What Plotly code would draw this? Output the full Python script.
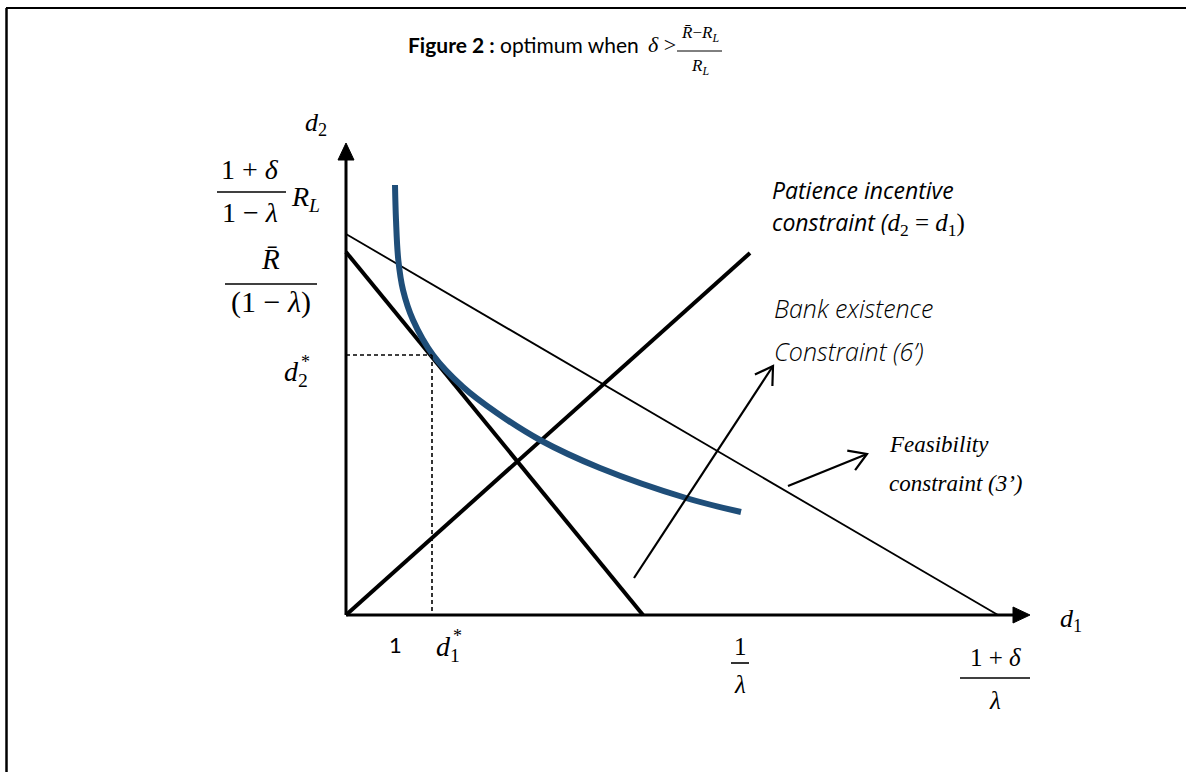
import math
import plotly.graph_objects as go

# ---- diagram data (abstract units: origin at 0,0) ----
d1_axis_end = 6.84
d2_axis_end = 4.72

feas_d1 = [0.0, 6.52]
feas_d2 = [3.81, 0.0]

bank_d1 = [0.0, 2.97]
bank_d2 = [3.63, 0.0]

patience_d1 = [0.0, 4.04]
patience_d2 = [0.0, 3.62]

indiff_d1 = [0.49, 0.50, 0.523, 0.57, 0.67, 0.87, 1.17, 1.51, 1.94, 2.54, 3.40, 3.95]
indiff_d2 = [4.30, 3.95, 3.55, 3.25, 2.95, 2.60, 2.28, 2.02, 1.75, 1.47, 1.17, 1.03]

optimum_d1 = 0.86
optimum_d2 = 2.60

bank_arrow_d1 = [2.88, 4.27]
bank_arrow_d2 = [0.37, 2.49]
feas_arrow_d1 = [4.42, 5.21]
feas_arrow_d2 = [1.29, 1.61]

W, H = 1186, 772
X0, Y0, SCALE = 346, 615, 100.0  # origin position and pixels per unit


def dx(px):
    return (px - X0) / SCALE


def dy(py):
    return (Y0 - py) / SCALE


fig = go.Figure()


def line(xs, ys, width, color="black", dash="solid"):
    fig.add_trace(go.Scatter(x=xs, y=ys, mode="lines",
                             line=dict(color=color, width=width, dash=dash),
                             hoverinfo="skip", showlegend=False))


# axes
line([0, 0], [0, d2_axis_end - 0.12], 3)
line([0, d1_axis_end - 0.12], [0, 0], 3)

# constraints
line(feas_d1, feas_d2, 1.8)
line(bank_d1, bank_d2, 4)
line(patience_d1, patience_d2, 4)

# indifference curve
fig.add_trace(go.Scatter(x=indiff_d1, y=indiff_d2, mode="lines",
                         line=dict(color="#1F4E79", width=6, shape="spline", smoothing=1.0),
                         hoverinfo="skip", showlegend=False))

# optimum guides
line([0, optimum_d1], [optimum_d2, optimum_d2], 1.6, dash="4px,3px")
line([optimum_d1, optimum_d1], [optimum_d2, 0], 1.6, dash="4px,3px")

# pointer arrows
line(bank_arrow_d1, bank_arrow_d2, 2.2)
line(feas_arrow_d1, feas_arrow_d2, 2.2)

shapes = []


def open_head(xs, ys, length=0.2, spread=0.55):
    ang = math.atan2(ys[1] - ys[0], xs[1] - xs[0])
    tx, ty = xs[1], ys[1]
    a1 = ang + math.pi - spread
    a2 = ang + math.pi + spread
    p1 = (tx + length * math.cos(a1), ty + length * math.sin(a1))
    p2 = (tx + length * math.cos(a2), ty + length * math.sin(a2))
    shapes.append(dict(type="path", xref="x", yref="y",
                       path=f"M{p1[0]},{p1[1]} L{tx},{ty} L{p2[0]},{p2[1]}",
                       line=dict(color="black", width=2.2)))


open_head(bank_arrow_d1, bank_arrow_d2)
open_head(feas_arrow_d1, feas_arrow_d2)

# filled axis arrowheads
hl, hw = 0.17, 0.08
shapes.append(dict(type="path", xref="x", yref="y", fillcolor="black",
                   line=dict(color="black", width=1),
                   path=f"M{-hw},{d2_axis_end - hl} L0,{d2_axis_end} L{hw},{d2_axis_end - hl} Z"))
shapes.append(dict(type="path", xref="x", yref="y", fillcolor="black",
                   line=dict(color="black", width=1),
                   path=f"M{d1_axis_end - hl},{-hw} L{d1_axis_end},0 L{d1_axis_end - hl},{hw} Z"))

# fraction bars
for x_a, x_b, yy, w in [(217, 286, 192, 1.6), (225, 317, 284, 1.6), (731, 749, 663, 1.6),
                        (960, 1030, 678, 1.6), (677, 722, 51, 1.0)]:
    shapes.append(dict(type="line", xref="x", yref="y", x0=dx(x_a), x1=dx(x_b),
                       y0=dy(yy), y1=dy(yy), line=dict(color="black", width=w)))

# frame
shapes.append(dict(type="line", xref="paper", yref="paper", x0=6 / W, x1=1,
                   y0=1 - 8 / H, y1=1 - 8 / H, line=dict(color="black", width=2)))
shapes.append(dict(type="line", xref="paper", yref="paper", x0=6.5 / W, x1=6.5 / W,
                   y0=0, y1=1 - 8 / H, line=dict(color="black", width=2.5)))

MATH = "Liberation Serif"
TEXT = "Lato"
SANS = "Open Sans"
annotations = []


def label(px, py, text, size, family=MATH, anchor="center", weight=None, italic=False):
    f = dict(family=family, size=size, color="black")
    if weight:
        f["weight"] = weight
    if italic:
        f["style"] = "italic"
    annotations.append(dict(x=dx(px), y=dy(py), xref="x", yref="y", text=text,
                            showarrow=False, xanchor=anchor, yanchor="middle", font=f))


# title
label(641, 44, "<b>Figure 2 :</b> optimum when", 21, family=TEXT, anchor="right")
label(646, 44, "<i>δ</i> >", 22, anchor="left")
label(700, 34, "<i>R̄</i>−<i>R</i><sub><i>L</i></sub>", 17)
label(700, 67, "<i>R</i><sub><i>L</i></sub>", 17)

# axis names
label(316, 124, "<i>d</i><sub>2</sub>", 26)
label(1071, 620, "<i>d</i><sub>1</sub>", 26)

# vertical axis values
label(250, 169, "1 + <i>δ</i>", 28)
label(250, 212, "1 − <i>λ</i>", 28)
label(289, 198, "<i>R</i><sub><i>L</i></sub>", 28, anchor="left")
label(270, 259, "<i>R̄</i>", 29)
label(271, 302, "(1 − <i>λ</i>)", 30)
label(296, 373, "<i>d</i><sub>2</sub>", 28)
label(305, 362, "*", 18)

# horizontal axis values
label(395, 644, "1", 22, family=TEXT)
label(448, 648, "<i>d</i><sub>1</sub>", 28)
label(457, 636, "*", 18)
label(740, 646, "1", 25)
label(740, 684, "<i>λ</i>", 25)
label(995, 657, "1 + <i>δ</i>", 25)
label(995, 700, "<i>λ</i>", 25)

# constraint names
label(770, 190, "Patience incentive", 23, family=SANS, anchor="left", italic=True)
label(770, 223, "<i>constraint (</i><span style='font-family:Liberation Serif;font-size:25px'>"
      "<i>d</i><sub>2</sub> = <i>d</i><sub>1</sub>)</span>",
      23, family=SANS, anchor="left")
label(772, 308, "Bank existence", 25, family=SANS, anchor="left", italic=True, weight=300)
label(772, 351, "Constraint (6’)", 25, family=SANS, anchor="left", italic=True, weight=300)
label(887, 444, "Feasibility", 23, anchor="left", italic=True)
label(887, 483, "constraint (3’)", 23, anchor="left", italic=True)

fig.update_layout(
    width=W, height=H,
    margin=dict(l=0, r=0, t=0, b=0),
    paper_bgcolor="white", plot_bgcolor="white",
    xaxis=dict(range=[dx(0), dx(W)], visible=False, fixedrange=True),
    yaxis=dict(range=[dy(H), dy(0)], visible=False, fixedrange=True),
    shapes=shapes, annotations=annotations,
)

fig.write_html("out.html")
